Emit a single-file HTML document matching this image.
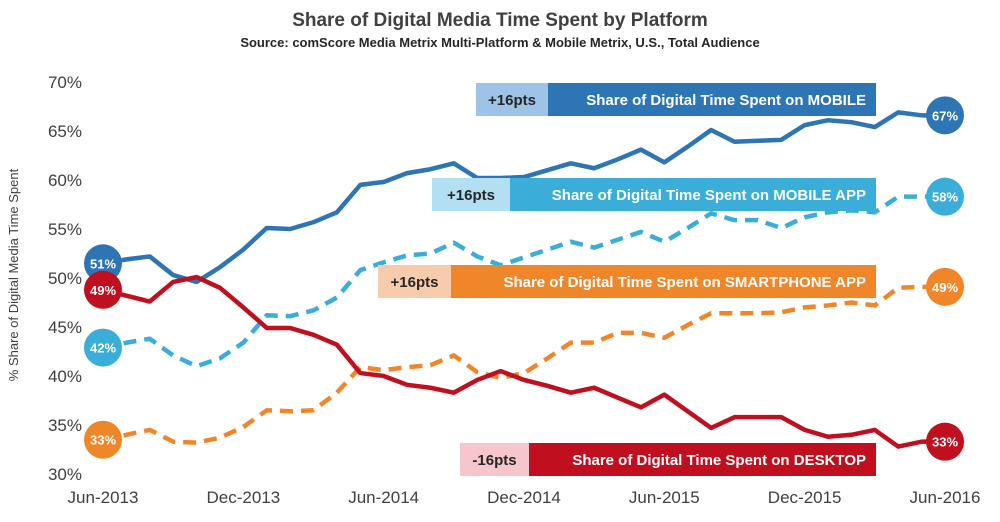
<!DOCTYPE html>
<html><head><meta charset="utf-8"><style>
body{margin:0;background:#fff;font-family:"Liberation Sans",sans-serif}
svg text{font-family:"Liberation Sans",sans-serif}
</style></head><body>
<svg id="chart" width="1000" height="517" viewBox="0 0 1000 517">
<text x="500" y="26" text-anchor="middle" font-size="19" font-weight="bold" fill="#404040">Share of Digital Media Time Spent by Platform</text>
<text x="500" y="47" text-anchor="middle" font-size="13" font-weight="bold" fill="#262626">Source: comScore Media Metrix Multi-Platform &amp; Mobile Metrix, U.S., Total Audience</text>
<text transform="translate(18,275) rotate(-90)" text-anchor="middle" font-size="13" fill="#404040">% Share of Digital Media  Time Spent</text>
<g id="yticks"></g><g id="xticks"></g><g id="lines"></g><g id="labels"></g><g id="dots"></g>
</svg>
<script>
const months=[0,1,2,3,4,5,6,7,8,9,10,11,12,13,14,15,16,17,18,19,20,21,22,23,24,25,26,27,28,29,30,31,32,33,34,35,36];
const mobile=[51.5,51.9,52.2,50.3,49.6,51.1,52.9,55.1,55.0,55.7,56.7,59.5,59.8,60.7,61.1,61.7,60.2,60.2,60.3,61.0,61.7,61.2,62.1,63.1,61.8,63.4,65.1,63.9,64.0,64.1,65.6,66.1,65.9,65.4,66.9,66.6,66.6];
const mobileApp=[42.9,43.4,43.8,42.1,41.0,41.8,43.4,46.2,46.1,46.7,48.0,50.8,51.6,52.3,52.5,53.6,52.2,51.3,52.1,52.9,53.7,53.1,53.9,54.7,53.7,55.1,56.6,55.9,55.9,55.1,56.2,56.7,56.9,56.7,58.3,58.3,58.3];
const smartphoneApp=[33.5,34.0,34.5,33.3,33.2,33.7,34.8,36.5,36.4,36.5,38.3,40.9,40.6,40.9,41.1,42.1,40.4,39.8,40.3,41.8,43.4,43.4,44.4,44.4,43.9,45.2,46.4,46.4,46.4,46.5,47.0,47.2,47.5,47.2,49.0,49.1,49.1];
const desktop=[48.8,48.2,47.6,49.6,50.1,49.0,47.0,44.9,44.9,44.2,43.2,40.3,40.0,39.1,38.8,38.3,39.6,40.5,39.6,39.0,38.3,38.8,37.8,36.8,38.1,36.4,34.7,35.8,35.8,35.8,34.5,33.8,34.0,34.5,32.8,33.3,33.3];
const yTicks=[30,35,40,45,50,55,60,65,70];
const xTickMonths=[0,6,12,18,24,30,36];
const xTickLabels=["Jun-2013","Dec-2013","Jun-2014","Dec-2014","Jun-2015","Dec-2015","Jun-2016"];
const startLabels=["51%","42%","33%","49%"];
const endLabels=["67%","58%","49%","33%"];
const ns="http://www.w3.org/2000/svg";
const X=m=>103+m*(945-103)/36;
const Y=v=>474-(v-30)*9.8;
function mk(t,a,p){const e=document.createElementNS(ns,t);for(const k in a)e.setAttribute(k,a[k]);p.appendChild(e);return e;}
const yg=document.getElementById('yticks');
yTicks.forEach(v=>{const t=mk('text',{x:82,y:Y(v)+6,'text-anchor':'end','font-size':17,fill:'#404040'},yg);t.textContent=v+'%';

});
const xg=document.getElementById('xticks');
xTickMonths.forEach((m,i)=>{const t=mk('text',{x:X(m),y:503,'text-anchor':'middle','font-size':17,fill:'#404040'},xg);t.textContent=xTickLabels[i];

});
const series=[
 {d:mobile,c:'#2e75b6',dash:null,n:'mobile'},
 {d:mobileApp,c:'#3aaed8',dash:'13 8',n:'mobile-app'},
 {d:smartphoneApp,c:'#f0862a',dash:'13 8',n:'smartphone-app'},
 {d:desktop,c:'#c00f1e',dash:null,n:'desktop'}];
const lg=document.getElementById('lines'),dg=document.getElementById('dots');
series.forEach((s,si)=>{
 const pts=months.map((m,i)=>X(m)+','+Y(s.d[i])).join(' ');
 const a={points:pts,fill:'none',stroke:s.c,'stroke-width':4.5,'stroke-linejoin':'round'};
 if(s.dash)a['stroke-dasharray']=s.dash;
 const pl=mk('polyline',a,lg);
 
 
 [[0,startLabels[si],'start'],[months.length-1,endLabels[si],'end']].forEach(([i,lab,w])=>{
  const g=mk('g',{},dg);
  
  
  mk('circle',{cx:X(months[i]),cy:Y(s.d[i]),r:19,fill:s.c},g);
  const t=mk('text',{x:X(months[i]),y:Y(s.d[i])+5,'text-anchor':'middle','font-size':13,'font-weight':'bold',fill:'#fff'},g);t.textContent=lab;
 });
});
const boxes=[
 {lx:476,dx:548,y:83,lc:'#9dc3e6',dc:'#2e75b6',p:'+16pts',t:'Share of Digital  Time  Spent on MOBILE',pc:'#262626',n:'mobile'},
 {lx:432,dx:510,y:178,lc:'#b2e0f2',dc:'#3aaed8',p:'+16pts',t:'Share of Digital  Time  Spent on MOBILE APP',pc:'#262626',n:'mobile-app'},
 {lx:378,dx:451,y:265,lc:'#f8cbad',dc:'#f0862a',p:'+16pts',t:'Share of Digital  Time  Spent on SMARTPHONE APP',pc:'#262626',n:'smartphone-app'},
 {lx:460,dx:529,y:443,lc:'#f6c6cc',dc:'#c00f1e',p:'-16pts',t:'Share of Digital  Time  Spent on DESKTOP',pc:'#262626',n:'desktop'}];
const bg=document.getElementById('labels');
boxes.forEach(b=>{
 const g=mk('g',{},bg);
 
 
 mk('rect',{x:b.lx,y:b.y,width:b.dx-b.lx,height:33,fill:b.lc},g);
 mk('rect',{x:b.dx,y:b.y,width:876-b.dx,height:33,fill:b.dc},g);
 const p=mk('text',{x:(b.lx+b.dx)/2,y:b.y+22,'text-anchor':'middle','font-size':15,'font-weight':'bold',fill:b.pc},g);p.textContent=b.p;
 const t=mk('text',{x:866,y:b.y+22,'text-anchor':'end','font-size':15,'font-weight':'bold',fill:'#fff','xml:space':'preserve'},g);t.textContent=b.t;
});
</script>
</body></html>
